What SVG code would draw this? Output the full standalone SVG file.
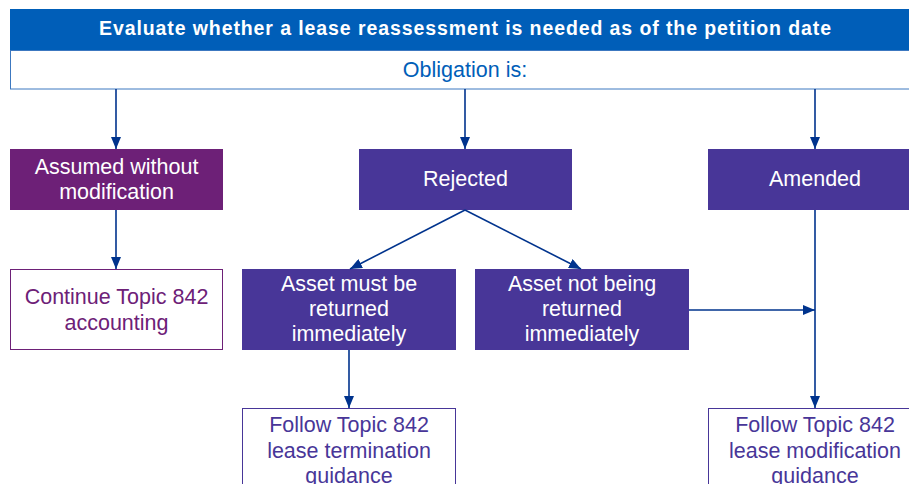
<svg xmlns="http://www.w3.org/2000/svg" width="909" height="484" viewBox="0 0 909 484">
<defs>
<marker id="ah" markerWidth="12" markerHeight="10" refX="12" refY="5" orient="auto" markerUnits="userSpaceOnUse">
<path d="M0,0 L12,5 L0,10 Z" fill="#00338D"/>
</marker>
<style>
text{font-family:"Liberation Sans",Arial,sans-serif;font-size:21.5px;text-anchor:middle}
.hd{font-weight:bold;font-size:19.5px;fill:#fff}
.w{fill:#fff}
.pu{fill:#6D2077}
.vi{fill:#483698}
.bl{fill:#005EB8}
.c{stroke:#00338D;stroke-width:1.6;fill:none;marker-end:url(#ah)}
</style>
</defs>
<rect width="909" height="484" fill="#fff"/>
<g id="header">
<rect x="10" y="9" width="910" height="41" fill="#005EB8"/>
<text class="hd" x="465" y="35" textLength="732" lengthAdjust="spacing">Evaluate whether a lease reassessment is needed as of the petition date</text>
</g>
<g id="obligation">
<rect x="10.5" y="50.5" width="910" height="38.5" fill="#fff" stroke="#3C78C0" stroke-width="1"/>
<text class="bl" x="465" y="77">Obligation is:</text>
</g>
<g id="assumed">
<rect x="10" y="149" width="213" height="61" fill="#6D2077"/>
<text class="w" x="116.5" y="174">Assumed without</text>
<text class="w" x="116.5" y="199">modification</text>
</g>
<g id="rejected">
<rect x="359" y="149" width="213" height="61" fill="#483698"/>
<text class="w" x="465.5" y="186">Rejected</text>
</g>
<g id="amended">
<rect x="708" y="149" width="214" height="61" fill="#483698"/>
<text class="w" x="815" y="186">Amended</text>
</g>
<g id="continue">
<rect x="10.5" y="269.5" width="212" height="80" fill="#fff" stroke="#6D2077" stroke-width="1"/>
<text class="pu" x="116.5" y="304">Continue Topic 842</text>
<text class="pu" x="116.5" y="330">accounting</text>
</g>
<g id="returned">
<rect x="242" y="269" width="214" height="81" fill="#483698"/>
<text class="w" x="349" y="291">Asset must be</text>
<text class="w" x="349" y="316">returned</text>
<text class="w" x="349" y="341">immediately</text>
</g>
<g id="notreturned">
<rect x="475" y="269" width="214" height="81" fill="#483698"/>
<text class="w" x="582" y="291">Asset not being</text>
<text class="w" x="582" y="316">returned</text>
<text class="w" x="582" y="341">immediately</text>
</g>
<g id="termination">
<rect x="242.5" y="408.5" width="213" height="90" fill="#fff" stroke="#483698" stroke-width="1"/>
<text class="vi" x="349" y="432">Follow Topic 842</text>
<text class="vi" x="349" y="458">lease termination</text>
<text class="vi" x="349" y="483">guidance</text>
</g>
<g id="modification">
<rect x="708.5" y="408.5" width="213" height="90" fill="#fff" stroke="#483698" stroke-width="1"/>
<text class="vi" x="815" y="432">Follow Topic 842</text>
<text class="vi" x="815" y="458">lease modification</text>
<text class="vi" x="815" y="483">guidance</text>
</g>
<g id="connectors">
<line class="c" x1="116" y1="89" x2="116" y2="149"/>
<line class="c" x1="465" y1="89" x2="465" y2="149"/>
<line class="c" x1="815" y1="89" x2="815" y2="149"/>
<line class="c" x1="116" y1="210" x2="116" y2="269"/>
<line class="c" x1="465" y1="210" x2="350" y2="269"/>
<line class="c" x1="465" y1="210" x2="581" y2="269"/>
<line class="c" x1="349" y1="350" x2="349" y2="408"/>
<line class="c" x1="815" y1="210" x2="815" y2="408"/>
<line class="c" x1="689" y1="310" x2="815" y2="310"/>
</g>
</svg>
